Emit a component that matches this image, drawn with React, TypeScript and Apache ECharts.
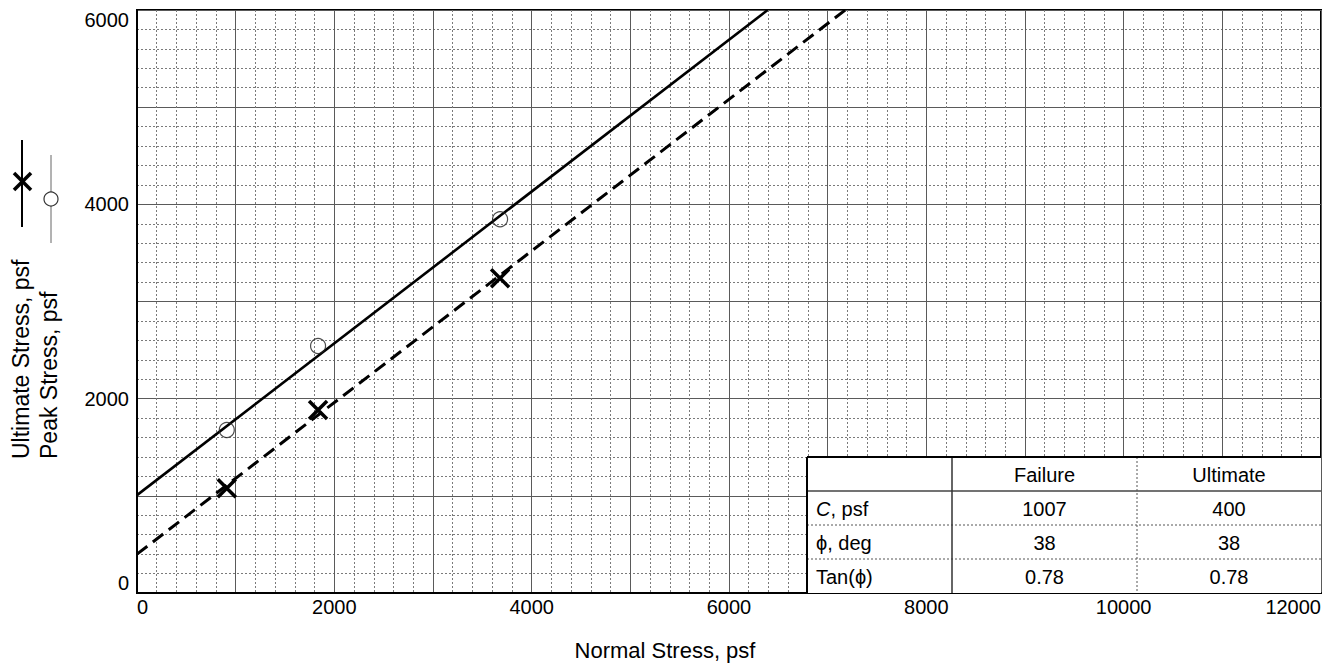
import React, { useEffect, useRef } from "react";
import * as echarts from "echarts";

// ---- data ----
const peakNormal = [910, 1835, 3680];
const peakStress = [1677, 2542, 3846];
const ultNormal = [910, 1835, 3680];
const ultStress = [1077, 1883, 3239];
const failureLine = [[0, 1007], [6392, 6000]];
const ultimateLine = [[0, 400], [7179, 6000]];
const xTicksShown = [0, 2000, 4000, 6000, 8000, 10000, 12000];
const yTicksShown = [0, 2000, 4000, 6000];
const tableHeader = ["", "Failure", "Ultimate"];
const tableRowLabels = ["{i|C}, psf", "ϕ, deg", "Tan(ϕ)"];
const tableFailure = ["1007", "38", "0.78"];
const tableUltimate = ["400", "38", "0.78"];

const FONT = "'Liberation Sans', Arial, Helvetica, sans-serif";

export default function App() {
  const ref = useRef<HTMLDivElement>(null);
  useEffect(() => {
    document.body.style.margin = "0";
    const chart = echarts.init(ref.current!, null, { renderer: "svg" });

    // table geometry
    const tL = 807, tR = 1321, tT = 457, rowH = 34;
    const c1 = 952, c2 = 1137;
    const tB = tT + rowH * 4;
    const tbl: any[] = [];
    tbl.push({ type: "rect", z: 100, shape: { x: tL, y: tT, width: tR - tL, height: tB - tT }, style: { fill: "#fff" } });
    tbl.push({ type: "line", z: 102, shape: { x1: tL, y1: tT + rowH, x2: tR, y2: tT + rowH }, style: { stroke: "#444", lineWidth: 1.5 } });
    for (let r = 2; r < 4; r++) {
      tbl.push({ type: "line", z: 102, shape: { x1: tL, y1: tT + rowH * r, x2: tR, y2: tT + rowH * r }, style: { stroke: "#555", lineWidth: 1, lineDash: [2, 2] } });
    }
    tbl.push({ type: "line", z: 102, shape: { x1: c1, y1: tT, x2: c1, y2: tB }, style: { stroke: "#333", lineWidth: 1.5 } });
    tbl.push({ type: "line", z: 102, shape: { x1: c2, y1: tT, x2: c2, y2: tB }, style: { stroke: "#555", lineWidth: 1, lineDash: [2, 2] } });
    tbl.push({ type: "line", z: 103, shape: { x1: tL, y1: tT, x2: tR, y2: tT }, style: { stroke: "#000", lineWidth: 2 } });
    tbl.push({ type: "line", z: 103, shape: { x1: tL, y1: tT, x2: tL, y2: tB }, style: { stroke: "#000", lineWidth: 2 } });
    const colC = [(c1 + c2) / 2, (c2 + tR) / 2];
    tableHeader.forEach((h, i) => {
      if (!h) return;
      tbl.push({ type: "text", z: 104, x: colC[i - 1], y: tT + rowH / 2 + 1, style: { text: h, fontSize: 20, fontFamily: FONT, fill: "#000", align: "center", verticalAlign: "middle" } });
    });
    tableRowLabels.forEach((lab, r) => {
      const cy = tT + rowH * (r + 1) + rowH / 2 + 1;
      tbl.push({ type: "text", z: 104, x: tL + 9, y: cy, style: { text: lab, fontSize: 20, fontFamily: FONT, fill: "#000", align: "left", verticalAlign: "middle", rich: { i: { fontStyle: "italic", fontSize: 20, fontFamily: FONT } } } });
      tbl.push({ type: "text", z: 104, x: colC[0], y: cy, style: { text: tableFailure[r], fontSize: 20, fontFamily: FONT, fill: "#000", align: "center", verticalAlign: "middle" } });
      tbl.push({ type: "text", z: 104, x: colC[1], y: cy, style: { text: tableUltimate[r], fontSize: 20, fontFamily: FONT, fill: "#000", align: "center", verticalAlign: "middle" } });
    });

    // left legend / axis titles
    const legend: any[] = [
      { type: "line", shape: { x1: 22, y1: 140, x2: 22, y2: 227 }, style: { stroke: "#000", lineWidth: 2 } },
      { type: "line", shape: { x1: 14, y1: 173, x2: 31, y2: 190 }, style: { stroke: "#000", lineWidth: 3.5 } },
      { type: "line", shape: { x1: 31, y1: 173, x2: 14, y2: 190 }, style: { stroke: "#000", lineWidth: 3.5 } },
      { type: "line", shape: { x1: 51, y1: 155, x2: 51, y2: 243 }, style: { stroke: "#666", lineWidth: 1 } },
      { type: "circle", shape: { cx: 51, cy: 199, r: 7 }, style: { fill: "#fff", stroke: "#333", lineWidth: 1.2 } },
      { type: "text", x: 21, y: 459, rotation: Math.PI / 2, style: { text: "Ultimate Stress, psf", fontSize: 23, fontFamily: FONT, fill: "#000", align: "left", verticalAlign: "middle" } },
      { type: "text", x: 49, y: 459, rotation: Math.PI / 2, style: { text: "Peak Stress, psf", fontSize: 23, fontFamily: FONT, fill: "#000", align: "left", verticalAlign: "middle" } },
      { type: "text", x: 665, y: 650, style: { text: "Normal Stress, psf", fontSize: 22, fontFamily: FONT, fill: "#000", align: "center", verticalAlign: "middle" } },
    ];

    const axisCommon = {
      type: "value",
      interval: 1000,
      axisLine: { show: true, lineStyle: { color: "#000", width: 2 } },
      axisTick: { show: false },
      splitLine: { show: true, lineStyle: { color: "#5a5a5a", width: 1 } },
      minorTick: { show: false, splitNumber: 5 },
      minorSplitLine: { show: true, lineStyle: { color: "#7a7a7a", width: 1, type: [2, 2] } },
    };

    chart.setOption({
      animation: false,
      backgroundColor: "#fff",
      grid: { left: 137, right: 11, top: 10, bottom: 70, show: true, borderColor: "#000", borderWidth: 2, backgroundColor: "#fff" },
      xAxis: {
        ...axisCommon,
        min: 0,
        max: 12000,
        axisLabel: {
          fontSize: 20, fontFamily: FONT, color: "#000", margin: 4,
          alignMinLabel: "left", alignMaxLabel: "right",
          formatter: (v: number) => (xTicksShown.indexOf(v) >= 0 ? String(v) : ""),
        },
      },
      yAxis: {
        ...axisCommon,
        min: 0,
        max: 6000,
        axisLabel: {
          fontSize: 20, fontFamily: FONT, color: "#000", margin: 8,
          verticalAlignMinLabel: "bottom", verticalAlignMaxLabel: "top",
          formatter: (v: number) => (yTicksShown.indexOf(v) >= 0 ? String(v) : ""),
        },
      },
      series: [
        { type: "line", data: failureLine, showSymbol: false, lineStyle: { color: "#000", width: 2.6 }, silent: true, z: 3 },
        { type: "line", data: ultimateLine, showSymbol: false, lineStyle: { color: "#000", width: 3, type: [13, 7] }, silent: true, z: 3 },
        {
          type: "scatter", data: peakNormal.map((x, i) => [x, peakStress[i]]),
          symbol: "circle", symbolSize: 15,
          itemStyle: { color: "none", borderColor: "#222", borderWidth: 1.2 }, z: 4,
        },
        {
          type: "scatter", data: ultNormal.map((x, i) => [x, ultStress[i]]),
          symbol: "path://M0 0L20 20M20 0L0 20", symbolSize: 18,
          itemStyle: { color: "none", borderColor: "#000", borderWidth: 3.5, opacity: 1 }, z: 4,
        },
      ],
      graphic: [...tbl, ...legend],
    });
    return () => chart.dispose();
  }, []);
  return <div ref={ref} style={{ position: "fixed", left: 0, top: 0, width: 1332, height: 663 }} />;
}
